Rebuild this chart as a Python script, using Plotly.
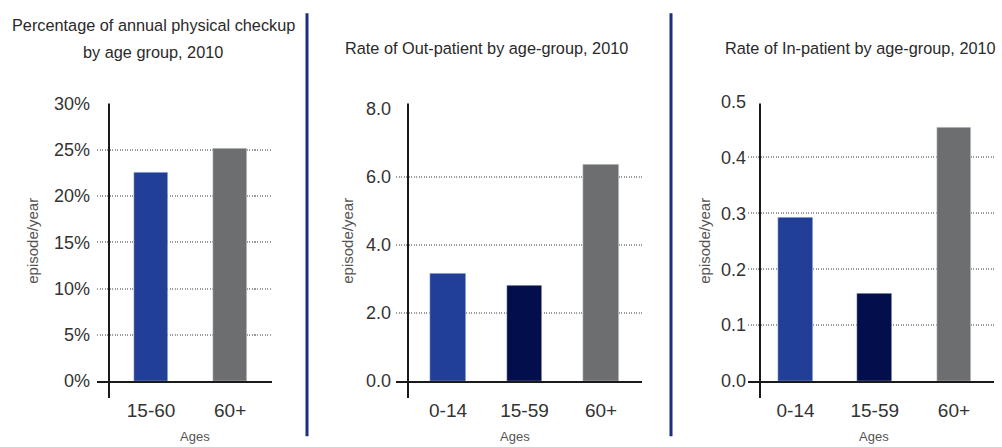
import plotly.graph_objects as go

# ---- data ----
checkup_groups = ["15-60", "60+"]
checkup_pct = [22.5, 25.1]
checkup_colors = ["#213F96", "#6D6E70"]

out_groups = ["0-14", "15-59", "60+"]
out_rate = [3.15, 2.8, 6.35]
in_groups = ["0-14", "15-59", "60+"]
in_rate = [0.292, 0.156, 0.453]
age_colors = ["#213F96", "#020F4C", "#6D6E70"]

title1_lines = ["Percentage of annual physical checkup", "by age group, 2010"]
title2 = "Rate of Out-patient by age-group, 2010"
title3 = "Rate of In-patient by age-group, 2010"
y_title = "episode/year"
x_title = "Ages"

W, H = 1002, 447
def px(x): return x / W
def Y(y): return (y - 9.8) / 0.953      # compensate vertical squeeze seen in the render
def py(y): return 1 - Y(y) / H

FONT = "Liberation Sans, Arial, sans-serif"
TXT = "#333333"

fig = go.Figure()
fig.add_trace(go.Bar(x=list(range(len(checkup_groups))), y=checkup_pct, marker_color=checkup_colors,
                     width=0.43, xaxis="x", yaxis="y", showlegend=False))
fig.add_trace(go.Bar(x=list(range(len(out_groups))), y=out_rate, marker_color=age_colors,
                     width=0.46, xaxis="x2", yaxis="y2", showlegend=False))
fig.add_trace(go.Bar(x=list(range(len(in_groups))), y=in_rate, marker_color=age_colors,
                     width=0.44, xaxis="x3", yaxis="y3", showlegend=False))

def xaxis(dom, rng, labels, anchor):
    return dict(domain=[px(dom[0]), px(dom[1])], range=rng, anchor=anchor,
                tickvals=list(range(len(labels))), ticktext=labels,
                showgrid=False, zeroline=False, showline=True, linecolor="#1a1a1a",
                linewidth=2, ticks="", ticklabelstandoff=11,
                tickfont=dict(family=FONT, size=19, color=TXT), fixedrange=True)

def yaxis(top, rng, dtick, fmt, suffix, anchor, standoff):
    return dict(domain=[py(380), py(top)], range=rng, anchor=anchor, dtick=dtick, tick0=0,
                tickformat=fmt, ticksuffix=suffix,
                showgrid=True, gridcolor="#9a9a9a", griddash="1px,1.5px", gridwidth=1.5,
                zeroline=False, showline=False, ticks="", ticklabelstandoff=standoff,
                tickfont=dict(family=FONT, size=18, color=TXT), fixedrange=True)

fig.update_layout(
    width=W, height=H, margin=dict(l=0, r=0, t=0, b=0),
    paper_bgcolor="white", plot_bgcolor="white",
    bargap=0,
    xaxis=xaxis((97, 272), [-0.684, 1.53], checkup_groups, "y"),
    yaxis=yaxis(103, [0, 30], 5, "d", "%", "x", 6),
    xaxis2=xaxis((396, 642), [-0.68, 2.536], out_groups, "y2"),
    yaxis2=yaxis(108, [0, 8], 2, ".1f", "", "x2", 4),
    xaxis3=xaxis((748, 994), [-0.60, 2.506], in_groups, "y3"),
    yaxis3=yaxis(101, [0, 0.5], 0.1, ".1f", "", "x3", 1),
)

shapes = []
# vertical axis lines
for x in (109, 408, 760):
    shapes.append(dict(type="line", xref="paper", yref="paper", x0=px(x), x1=px(x),
                       y0=py(103), y1=py(397), line=dict(color="#1a1a1a", width=2)))
# panel dividers
for x in (307, 671):
    shapes.append(dict(type="line", xref="paper", yref="paper", x0=px(x), x1=px(x),
                       y0=py(13), y1=py(435), line=dict(color="#1F2F80", width=3)))
fig.update_layout(shapes=shapes)

ann = []
title_items = [(title1_lines[0], 153, 25), (title1_lines[1], 153, 52),
               (title2, 486, 48), (title3, 860, 48)]
for t, x, y in title_items:
    ann.append(dict(text=t, x=px(x), y=py(y), xref="paper", yref="paper", showarrow=False,
                    xanchor="center", yanchor="middle", font=dict(family=FONT, size=16.3, color="#2a2a2a")))
for x in (33, 348, 705):
    ann.append(dict(text=y_title, x=px(x), y=py(240), xref="paper", yref="paper", showarrow=False,
                    textangle=-90, xanchor="center", yanchor="middle",
                    font=dict(family=FONT, size=15, color="#555555")))
for x in (195, 515, 874):
    ann.append(dict(text=x_title, x=px(x), y=py(435), xref="paper", yref="paper", showarrow=False,
                    xanchor="center", yanchor="middle", font=dict(family=FONT, size=13, color="#555555")))
fig.update_layout(annotations=ann)

fig.write_html("out.html")
